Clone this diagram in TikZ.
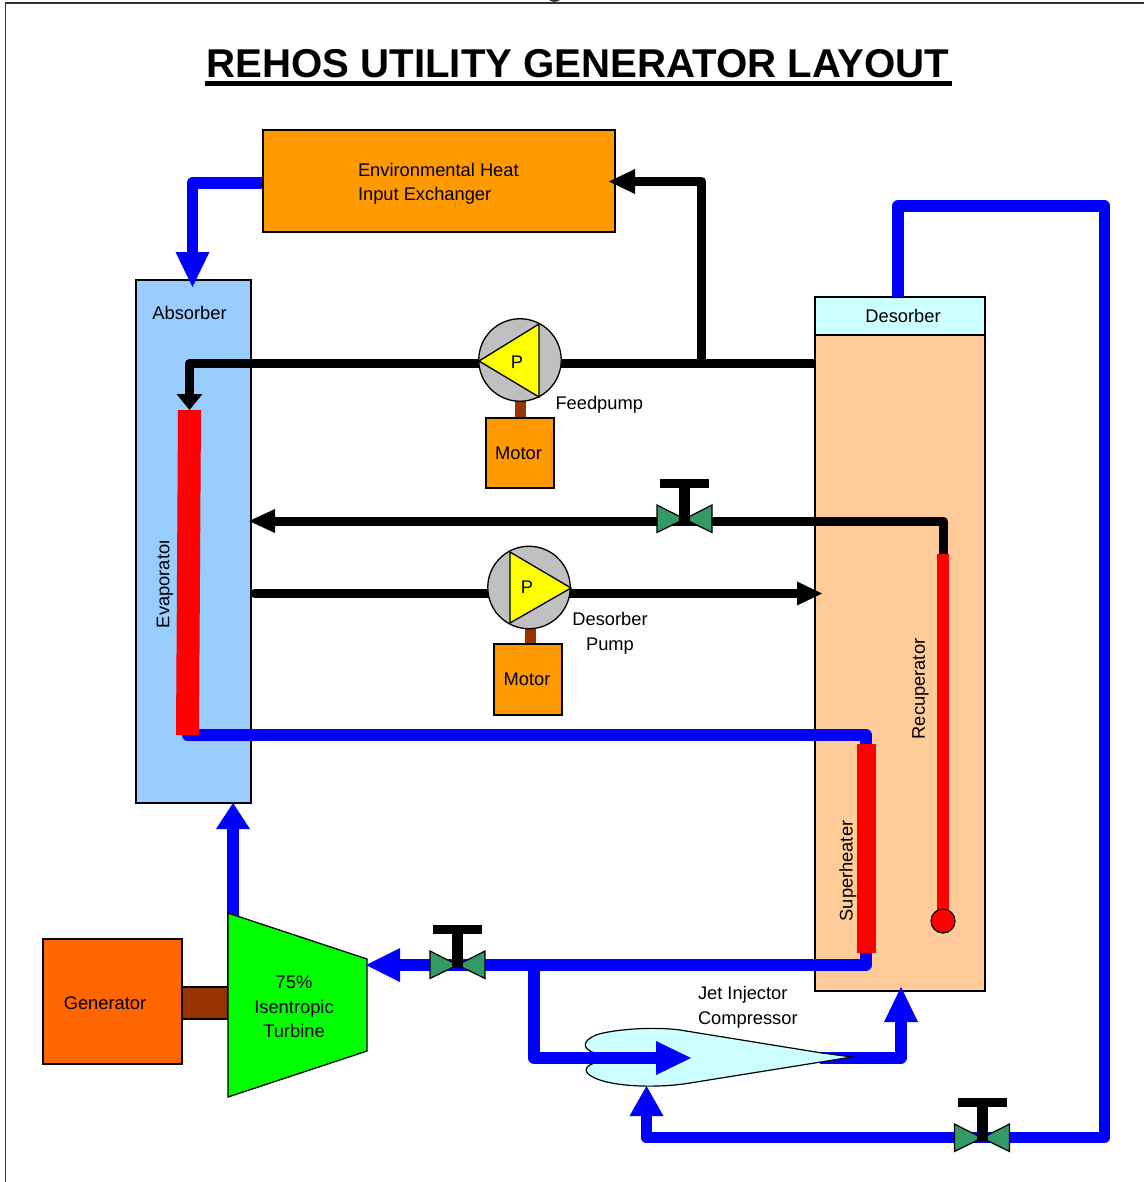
\documentclass[tikz,border=0pt]{standalone}
\usepackage{fontspec}
\setmainfont{Liberation Sans}
\usetikzlibrary{arrows.meta}
\pgfdeclarelayer{bg}
\pgfdeclarelayer{pipes}
\pgfsetlayers{bg,pipes,main}
\definecolor{pipeblue}{HTML}{0000FF}
\definecolor{pipered}{HTML}{FF0000}
\definecolor{absorberblue}{HTML}{99CCFF}
\definecolor{desorberpeach}{HTML}{FFCC99}
\definecolor{palecyan}{HTML}{CCFFFF}
\definecolor{amber}{HTML}{FF9900}
\definecolor{genorange}{HTML}{FF6600}
\definecolor{shaftbrown}{HTML}{993300}
\definecolor{valvegreen}{HTML}{339966}
\definecolor{turbgreen}{HTML}{00FF00}
\definecolor{pumpgrey}{HTML}{C0C0C0}
\definecolor{pumpyellow}{HTML}{FFFF00}
\definecolor{framegrey}{HTML}{333333}
\tikzset{
  x=1pt,y=-1pt,
  block/.style={draw=black,line width=1.3pt,inner sep=0pt,outer sep=0pt},
  solidbar/.style={inner sep=0pt,outer sep=0pt},
  txt/.style={inner sep=0pt,outer sep=0pt,font=\fontsize{18.3}{24.7}\selectfont,text=black},
  bluepipe/.style={draw=pipeblue,line width=11.5pt,line join=round},
  blackpipe/.style={draw=black,line width=9pt,line join=round},
  pumpbody/.style={circle,draw=black,line width=1.3pt,fill=pumpgrey,inner sep=0pt,outer sep=0pt,minimum size=82.5pt},
  pumptri/.style={draw=black,line width=1.3pt,fill=pumpyellow,line join=miter},
  tip/.style n args={2}{-{Triangle[length=#1,width=#2,line width=0pt]}},
}
\newcommand{\gatevalve}[3]{%
  \coordinate (#1) at (#2,#3);
  \begin{scope}[shift={(#2,#3)}]
    \draw[line width=1.2pt,fill=valvegreen] (-27.5,-14) -- (-27.5,13.5) -- (0,0) -- cycle;
    \draw[line width=1.2pt,fill=valvegreen] (27.5,-14) -- (27.5,13.5) -- (0,0) -- cycle;
    \fill[black] (-24.5,-40) rectangle (24.5,-31);
    \fill[black] (-5.5,-31) rectangle (5.5,3);
  \end{scope}
}
\begin{document}
\begin{tikzpicture}
\useasboundingbox (0,0) rectangle (1144,1182);
% page frame and title
\draw[framegrey,line width=1.5pt] (1144,3) -- (5.5,3) -- (5.5,1182);
\fill[framegrey] (549,0) .. controls (552,2.5) and (557,2.5) .. (560,0) -- cycle;
\node[inner sep=0pt,font=\fontsize{40.2}{44}\bfseries\selectfont] (title) at (578,64) {REHOS UTILITY GENERATOR LAYOUT};
\fill[black] (205,81) rectangle (952,86);

% vessels behind the pipes
\begin{pgfonlayer}{bg}
  \node[block,fill=absorberblue,minimum width=115pt,minimum height=523pt] (absorber) at (193.5,541.5) {};
  \node[block,fill=desorberpeach,minimum width=170pt,minimum height=656pt] (desorber) at (900,663) {};
  \node[block,fill=palecyan,minimum width=170pt,minimum height=38pt] (desorbertop) at (900,316) {};
\end{pgfonlayer}

% equipment
\node[block,fill=amber,minimum width=352pt,minimum height=102pt] (envheat) at (439,181) {};
\node[txt,anchor=west,align=left] (envlabel) at (358,183.5) {Environmental Heat\\[-1pt]Input Exchanger};
\node[txt] (absorberlabel) at (189.5,313) {Absorber};
\node[txt] (desorberlabel) at (903,316) {Desorber};

\node[block,fill=genorange,minimum width=139pt,minimum height=125pt] (generator) at (112.5,1001.5) {};
\node[txt] (generatorlabel) at (105,1003) {Generator};

% row and column guides for the pipes
\coordinate (rowfeed) at (0,363.5);
\coordinate (rowreturn) at (0,521);
\coordinate (rowdes) at (0,593.5);
\coordinate (rowsuper) at (0,735);
\coordinate (rowturb) at (0,965);
\coordinate (rowjet) at (0,1058);
\coordinate (rowlow) at (0,1137.5);
\coordinate (junctionfeed) at (701.5,363.5);
\coordinate (junctionjet) at (534,965);

% pumps and shafts
\node[block,draw=none,fill=shaftbrown,minimum width=11pt,minimum height=17pt] (shaftA) at (520.5,409.5) {};
\node[block,draw=none,fill=shaftbrown,minimum width=11pt,minimum height=16pt] (shaftB) at (530.5,636) {};
\node[pumpbody] (feedpump) at (520,360) {};
\node[pumpbody] (despump) at (529,587.5) {};
\draw[pumptri] (479,361) -- (539,324) -- (539,397) -- cycle;
\draw[pumptri] (510,552) -- (510,623) -- (571,588) -- cycle;
\node[txt] (feedP) at (517,362.5) {P};
\node[txt] (desP) at (527,587.5) {P};
\node[block,fill=amber,minimum width=68pt,minimum height=70pt] (motorA) at (520,453) {};
\node[block,fill=amber,minimum width=68pt,minimum height=71pt] (motorB) at (528,679.5) {};
\node[txt] (motorAlabel) at (518.5,453) {Motor};
\node[txt] (motorBlabel) at (527,679) {Motor};
\node[txt,anchor=west] (feedlabel) at (555.5,405) {Feedpump};
\node[txt,align=center] (deslabel) at (610,633.5) {Desorber\\Pump};

% red heat exchangers
\coordinate (evaptop) at (189.5,410);
\coordinate (evapbot) at (187.5,735);
\fill[pipered] (178,410) -- (201,410) -- (199,735) -- (176,735) -- cycle;
\node[solidbar,fill=pipered,minimum width=19pt,minimum height=209pt] (superheater) at (866.5,848.5) {};
\node[solidbar,fill=pipered,minimum width=12pt,minimum height=361pt] (recuperator) at (943,734.5) {};
\node[circle,draw=black,line width=1.2pt,fill=pipered,minimum size=24pt,inner sep=0pt,outer sep=0pt] (bulb) at (943,921) {};
\begin{scope}
  \clip (140,541) rectangle (176,640);
  \node[txt,rotate=90,anchor=west] (evaplabel) at (165,628) {Evaporator};
\end{scope}
\node[txt,rotate=90] (superlabel) at (848,871) {Superheater};
\node[txt,rotate=90] (recuplabel) at (920.5,689) {Recuperator};

% turbine
\coordinate (turbin) at (366,965);
\node[block,fill=shaftbrown,minimum width=46pt,minimum height=32pt] (shaftC) at (205,1003) {};
\draw[line width=1.3pt,fill=turbgreen,line join=miter] (228,913) -- (367,959) -- (367,1051) -- (228,1097) -- cycle;
\node[txt,align=center] (turblabel) at (294,1007) {75\%\\Isentropic\\Turbine};

% pipes behind the equipment
\begin{pgfonlayer}{pipes}
  \coordinate (absorberin) at (233,803);
  \draw[bluepipe,tip={26pt}{34pt}] (233,987) -- (absorberin);
  \draw[bluepipe,tip={35pt}{34pt}] (envheat.west |- 0,183) -| (192.5,287);
  \draw[bluepipe] (evapbot |- 0,725) -- (evapbot) -- (866,735) -- (866,746);
  \draw[bluepipe] (866,950) -- (866,965) -- (junctionjet);
  \draw[bluepipe,tip={30pt}{34pt}] (desorbertop.north -| 898,0) |- (1104.5,206) -- (1104.5,1137.5) -- (646.5,1137.5) -- (646.5,1086);
  \draw[blackpipe] (desorber.west |- rowfeed) -- (feedpump.center |- rowfeed);
  \draw[blackpipe,tip={16pt}{26pt}] (feedpump.center |- rowfeed) -| (evaptop);
  \draw[blackpipe,tip={26pt}{24pt}] (recuperator.north) |- (249,521);
  \draw[blackpipe,line cap=round,tip={25pt}{24pt}] (254.5,593.5) -- (822,593.5);
  \draw[bluepipe] (junctionjet) -- (534,1058) -- (600,1058);
  \draw[bluepipe,tip={35pt}{34pt}] (820,1058) -| (901,987);
\end{pgfonlayer}

% feed to the heat exchanger, tip in front of the box
\draw[blackpipe,tip={26pt}{25pt}] (junctionfeed) |- (609,181.5);

% jet injector
\coordinate (jetmouth) at (594,1058);
\coordinate (jettip) at (852,1057);
\draw[line width=1.2pt,fill=palecyan]
  (594,1053) .. controls (582,1048) and (582,1041) .. (596,1035)
  .. controls (610,1030) and (650,1026) .. (680,1030)
  -- (822,1053) -- (jettip) -- (690,1083)
  .. controls (660,1088) and (620,1087) .. (600,1080)
  .. controls (585,1075) and (581,1068) .. (594,1063);
\draw[bluepipe,tip={35pt}{34pt}] (534,1058) -- (691,1058);
\node[txt,anchor=west,align=left] (jetlabel) at (698,1007.5) {Jet Injector\\Compressor};

% turbine feed and valves, in front
\draw[bluepipe,tip={34pt}{34pt}] (junctionjet) -- (turbin |- rowturb);
\gatevalve{valveA}{457.5}{965}
\gatevalve{valveB}{684.5}{519}
\gatevalve{valveC}{982}{1138}
\end{tikzpicture}
\end{document}
